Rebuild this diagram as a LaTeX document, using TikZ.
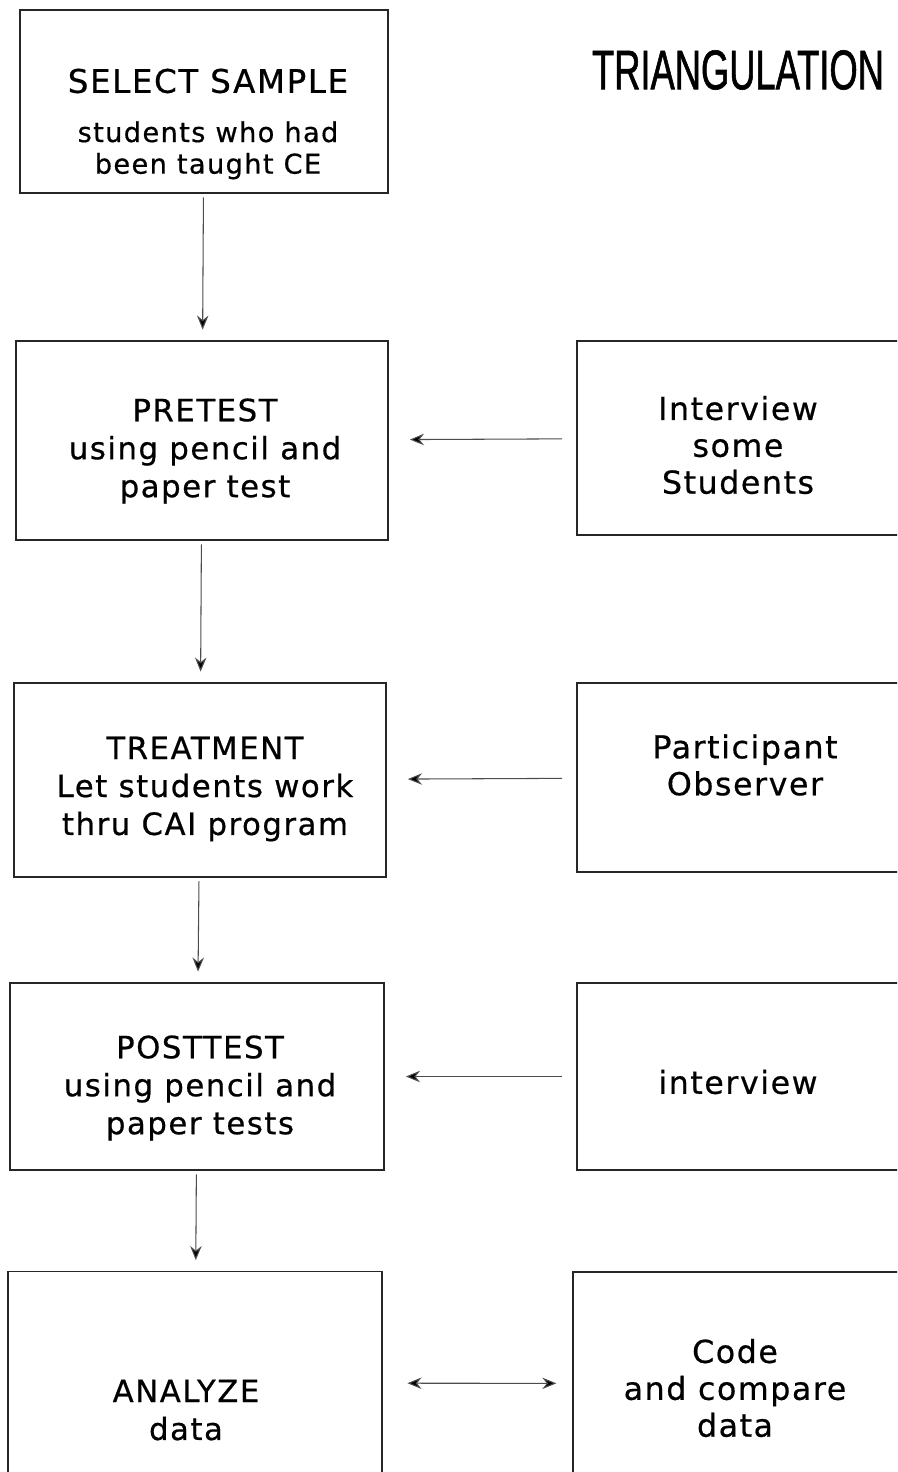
\documentclass[tikz,border=0pt]{standalone}
\usepackage{fontspec}
\usepackage{tikz}
\usetikzlibrary{positioning}
\usetikzlibrary{arrows.meta}
\newfontfamily\handfont[LetterSpace=5,FakeBold=0.6]{DejaVu Sans}
\newfontfamily\titlefont[FakeStretch=0.65,FakeBold=1]{Liberation Sans}
\tikzset{
    box/.style = {rectangle, draw=black!85, line width=1pt, inner sep=0pt},
    txt/.style = {align=center, font=\handfont\fontsize{17.5}{21.6}\selectfont},
    txtr/.style = {align=center, font=\handfont\fontsize{18}{21}\selectfont},
    flow/.style = {-{Stealth[length=8pt,width=6.5pt]}, draw=black!70, line width=0.6pt,
                   shorten <=2pt, shorten >=6pt},
    side/.style = {-{Stealth[length=8pt,width=6.5pt]}, draw=black!70, line width=0.6pt,
                   shorten <=8pt, shorten >=12pt},
    both/.style = {{Stealth[length=8pt,width=6.5pt]}-{Stealth[length=8pt,width=6.5pt]},
                   draw=black!70, line width=0.6pt, shorten <=14pt, shorten >=9pt}
}

\begin{document}
\begin{tikzpicture}[x=0.02cm, y=-0.02cm]
\useasboundingbox (0,0) rectangle (897,1472);
\clip (0,0) rectangle (897,1472);
% left column
\node[box, minimum width=7.36cm, minimum height=3.66cm] at (204,101.5) (b1) {};
\node[box, minimum width=7.44cm, minimum height=3.98cm] at (202,440.5) (b2) {};
\node[box, minimum width=7.44cm, minimum height=3.88cm] at (200,780) (b3) {};
\node[box, minimum width=7.48cm, minimum height=3.74cm] at (197,1076.5) (b4) {};
\node[box, minimum width=7.48cm, minimum height=4.46cm] at (195,1383) (b5) {};
% right column
\node[box, minimum width=6.86cm, minimum height=3.88cm] at (748.5,438) (r2) {};
\node[box, minimum width=6.86cm, minimum height=3.78cm] at (748.5,777.5) (r3) {};
\node[box, minimum width=6.86cm, minimum height=3.74cm] at (748.5,1076.5) (r4) {};
\node[box, minimum width=6.94cm, minimum height=4.46cm] at (746.5,1383.5) (r5) {};
%
\node[font=\titlefont\fontsize{31.8}{36}\selectfont] at (738,70) (title) {TRIANGULATION};
\node[txt, font=\handfont\fontsize{15.5}{18}\selectfont] at (208,124) (t1) {{\fontsize{18.5}{20}\selectfont SELECT SAMPLE}\\[10pt]students who had\\been taught CE};
\node[txt] at (205,451) (t2) {PRETEST\\using pencil and\\paper test};
\node[txt] at (205,789) (t3) {TREATMENT\\Let students work\\thru CAI program};
\node[txt] at (200,1088) (t4) {POSTTEST\\using pencil and\\paper tests};
\node[txt] at (186,1410) (t5) {ANALYZE\\data};
\node[txtr] at (738,445) (u2) {Interview\\some\\Students};
\node[txtr] at (745,765) (u3) {Participant\\Observer};
\node[txtr] at (738,1082) (u4) {interview};
\node[txtr] at (735,1388) (u5) {Code\\and compare\\data};
%
\draw[flow] (b1) edge (b2);
\draw[flow] (b2) edge (b3);
\draw[flow] (b3) edge (b4);
\draw[flow] (b4) edge (b5);
\draw[side] (r2) edge (b2);
\draw[side] (r3) edge (b3);
\draw[side] (r4) edge (b4);
\draw[both] (b5) edge (r5);
\end{tikzpicture}
\end{document}
